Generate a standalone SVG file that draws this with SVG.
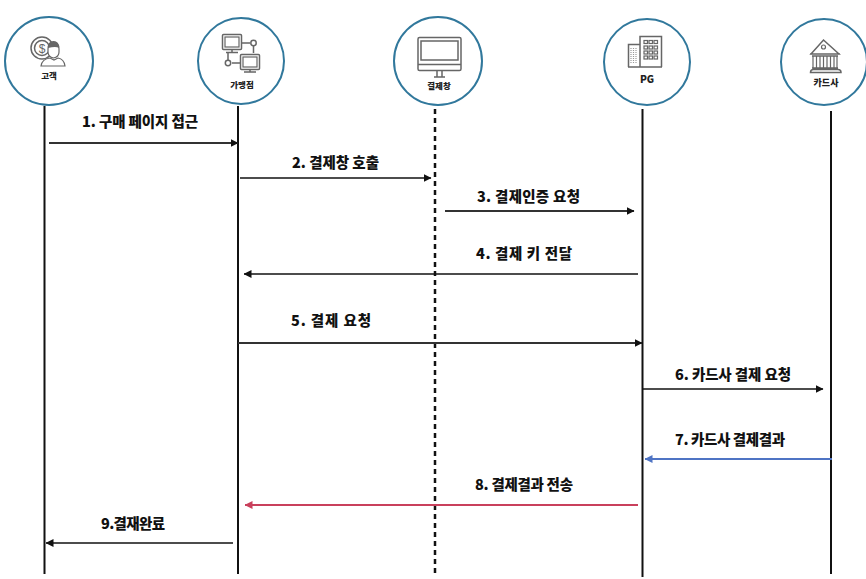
<svg xmlns="http://www.w3.org/2000/svg" width="866" height="579" viewBox="0 0 866 579">
<style>
.bg{fill:#fff}
.circle{fill:#fff;stroke:#31789c;stroke-width:2}
.life{stroke:#111;stroke-width:2;fill:none}
.dash{stroke:#111;stroke-width:2.5;stroke-dasharray:5 4;fill:none}
.msg{stroke:#111;stroke-width:1.6;fill:none}
.thick{stroke:#333;stroke-width:2.200;fill:none}
.ic{fill:none;stroke:#666;stroke-width:1.500}
.ict{fill:#666;stroke:none}
.win{fill:none;stroke:#666;stroke-width:1.200}
.lab{font-family:"Noto Sans CJK KR","Liberation Sans",sans-serif;font-weight:900;font-size:14.500px;fill:#111}
.nl{font-family:"Noto Sans CJK KR","Liberation Sans",sans-serif;font-weight:900;font-size:8.500px;fill:#222;text-anchor:middle}
</style>
<defs>
<marker id="ab" viewBox="0 0 8 8" refX="7.500" refY="4" markerWidth="8" markerHeight="8" markerUnits="userSpaceOnUse" orient="auto"><path d="M0 0L8 4L0 8z" fill="#111"/></marker>
<marker id="ar" viewBox="0 0 8 8" refX="7.500" refY="4" markerWidth="8" markerHeight="8" markerUnits="userSpaceOnUse" orient="auto"><path d="M0 0L8 4L0 8z" fill="#c9405c"/></marker>
<marker id="ah" viewBox="0 0 8 8" refX="7.500" refY="4" markerWidth="8" markerHeight="8" markerUnits="userSpaceOnUse" orient="auto"><path d="M0 0L8 4L0 8z" fill="#4f74c4"/></marker>
</defs>
<rect class="bg" width="866" height="579"/>
<g id="connectors">
<path class="life" d="M44.500 106V574"/>
<path class="life" stroke-width="2.500" d="M238 106V574"/>
<path class="dash" d="M435 109V577"/>
<path class="life" d="M642.500 109V577"/>
<path class="life" d="M831 111V574"/>
<path class="thick" d="M49 143H238" marker-end="url(#ab)"/>
<path class="msg" d="M240 178H431" marker-end="url(#ab)"/>
<path class="thick" d="M445 211H634" marker-end="url(#ab)"/>
<path class="msg" d="M638 274H244" marker-end="url(#ab)"/>
<path class="thick" d="M238 343H642" marker-end="url(#ab)"/>
<path class="msg" d="M642 389H823" marker-end="url(#ab)"/>
<path d="M832 459H645" stroke="#4f74c4" stroke-width="2.200" fill="none" marker-end="url(#ah)"/>
<path d="M638 505H245" stroke="#c9405c" stroke-width="2.200" fill="none" marker-end="url(#ar)"/>
<path class="msg" d="M233 543H46" marker-end="url(#ab)"/>
</g>
<g id="node-customer">
<circle class="circle" cx="49" cy="61" r="44"/>
<circle class="ic" cx="42" cy="48" r="11"/><circle class="ic" cx="42" cy="48" r="7.500"/>
<text x="42" y="52.500" font-family="Liberation Sans" font-size="12" fill="#666" text-anchor="middle">$</text>
<path d="M48 49q0-7 5.500-7t5.500 7v3q0 5-5.500 6q-5.500-1-5.500-6z" fill="#fff" stroke="#666" stroke-width="1.200"/>
<path class="ict" d="M48 48q0-7 5.500-7t5.500 7q-3-2-11 0z"/>
<path d="M41 66q1-7 9-8l4 2l4-2q6 1 7 8z" fill="#fff" stroke="#666" stroke-width="1.200"/>
<text class="nl" x="49" y="79">고객</text>
</g>
<g id="node-merchant">
<circle class="circle" cx="241" cy="61" r="43"/>
<rect class="ic" x="222.500" y="34.500" width="19" height="15" rx="1"/><rect class="win" x="225" y="37" width="14" height="10"/>
<path class="ic" d="M232 50v2M226 52.500h12M242 43h8M253.500 46v7M232 63h8M228 52v8"/>
<circle class="ic" cx="253.500" cy="43" r="2.700"/><circle class="ic" cx="228" cy="63" r="2.700"/>
<rect class="ic" x="240.500" y="54.500" width="19" height="15" rx="1"/><rect class="win" x="243" y="57" width="14" height="10"/><path class="ic" d="M250 70v1.500M244 72h12"/>
<text class="nl" x="242" y="88">가맹점</text>
</g>
<g id="node-window">
<circle class="circle" cx="438" cy="61" r="44"/>
<rect class="ic" x="418" y="37.500" width="43" height="33" rx="1.500" stroke-width="1.800"/><rect class="ic" x="421" y="41" width="37" height="19"/><path class="ic" d="M418 64.500h43M437 71v6M442 71v6M434 77h11"/>
<text class="nl" x="439" y="89">결제창</text>
</g>
<g id="node-pg">
<circle class="circle" cx="647" cy="62" r="43"/>
<path class="ic" d="M628.500 67V44.500h11M640 67V36.500h21.500V67M628 67h34"/>
<g class="win">
<rect x="644" y="40.500" width="3.500" height="3"/><rect x="649" y="40.500" width="3.500" height="3"/><rect x="654" y="40.500" width="3.500" height="3"/>
<rect x="644" y="46" width="3.500" height="3"/><rect x="649" y="46" width="3.500" height="3"/><rect x="654" y="46" width="3.500" height="3"/>
<rect x="644" y="51" width="3.500" height="3"/><rect x="649" y="51" width="3.500" height="3"/><rect x="654" y="51" width="3.500" height="3"/>
<rect x="644" y="56" width="3.500" height="3"/><rect x="649" y="56" width="3.500" height="3"/><rect x="654" y="56" width="3.500" height="3"/>
</g>
<path d="M631 48V63M633.500 48V63M636 48V63" fill="none" stroke="#999" stroke-width="1.200" stroke-dasharray="1 1"/>
<text class="nl" x="647" y="83" style="font-size:10px">PG</text>
</g>
<g id="node-card">
<circle class="circle" cx="824" cy="62" r="43"/>
<path class="ic" d="M811 54L823.500 40L839 54zM810 54h30"/><circle class="win" cx="823.500" cy="47" r="2"/>
<path class="ic" d="M812 56H838M812 68H838M810.500 72.500q0-3 3-3H838q3 0 3 3z"/>
<path class="win" d="M813 56v12M816.500 56v12M820 56v12M823.500 56v12M827 56v12M830.500 56v12M834 56v12M837 56v12"/>
<text class="nl" x="826" y="86" style="font-size:9px">카드사</text>
</g>
<g id="labels">
<text class="lab" x="82" y="127" textLength="116">1. 구매 페이지 접근</text>
<text class="lab" x="292" y="168" textLength="87">2. 결제창 호출</text>
<text class="lab" x="477" y="202" textLength="103">3.  결제인증 요청</text>
<text class="lab" x="476" y="259" textLength="96">4.  결제 키 전달</text>
<text class="lab" x="291" y="326" textLength="80">5.  결제 요청</text>
<text class="lab" x="675" y="380" textLength="116">6. 카드사 결제 요청</text>
<text class="lab" x="675" y="445" textLength="110">7. 카드사 결제결과</text>
<text class="lab" x="475" y="490" textLength="98">8. 결제결과 전송</text>
<text class="lab" x="101" y="529" textLength="64">9.결재완료</text>
</g>
</svg>
